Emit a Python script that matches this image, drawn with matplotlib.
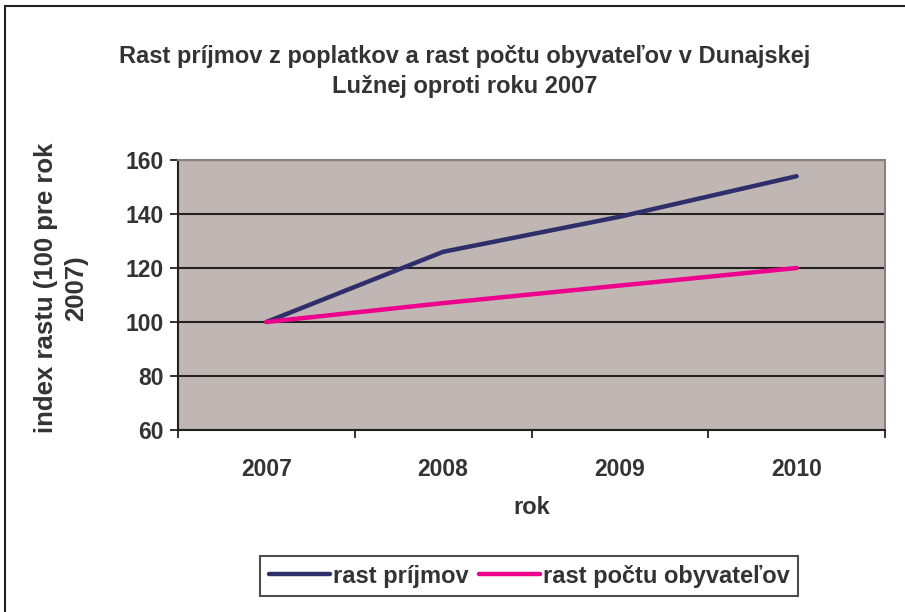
import matplotlib.pyplot as plt
import matplotlib.patches as patches

plt.rcParams['font.family'] = ['Liberation Sans', 'DejaVu Sans']
plt.rcParams['font.weight'] = 'bold'

years = ['2007', '2008', '2009', '2010']
rast_prijmov = [100, 126, 139, 154]
rast_obyvatelov = [100, 107, 113.5, 120]
y_ticks = [60, 80, 100, 120, 140, 160]

W, H = 905, 612
TXT = '#333333'
fig = plt.figure(figsize=(W / 100, H / 100), dpi=100, facecolor='white')
ax = fig.add_axes([178 / W, 1 - 430 / H, (885 - 178) / W, (430 - 160) / H])
ax.set_facecolor('#C0B6B3')

x = list(range(len(years)))
ax.plot(x, rast_prijmov, color='#2E2E6A', lw=3.2, solid_capstyle='round',
        label='rast príjmov', zorder=3)
ax.plot(x, rast_obyvatelov, color='#EC008C', lw=3.2, solid_capstyle='round',
        label='rast počtu obyvateľov', zorder=3)

ax.set_xlim(-0.5, len(years) - 0.5)
ax.set_ylim(60, 160)
ax.set_yticks(y_ticks)
ax.set_yticklabels([str(v) for v in y_ticks], fontsize=16.5, fontweight='bold', color=TXT)
ax.set_xticks(x)
ax.set_xticklabels(years, fontsize=16.5, fontweight='bold', color=TXT)
ax.tick_params(axis='x', length=0, pad=20)
ax.set_xticks([i - 0.5 for i in range(len(years) + 1)], minor=True)
ax.tick_params(axis='x', which='minor', length=6, width=1.3, color='#222222')
ax.tick_params(axis='y', length=6, width=1.3, color='#222222', pad=4)
ax.grid(axis='y', color='#222222', lw=1.5)
ax.set_axisbelow(True)

for s in ['left', 'bottom']:
    ax.spines[s].set_color('#222222')
    ax.spines[s].set_linewidth(1.5)
for s in ['top', 'right']:
    ax.spines[s].set_color('#8A807E')
    ax.spines[s].set_linewidth(1.5)

fig.text(465 / W, 1 - 57 / H, 'Rast príjmov z poplatkov a rast počtu obyvateľov v Dunajskej',
         ha='center', va='center', fontsize=17, fontweight='bold', color=TXT)
fig.text(465 / W, 1 - 87 / H, 'Lužnej oproti roku 2007',
         ha='center', va='center', fontsize=17, fontweight='bold', color=TXT)

fig.text(61 / W, 1 - 288 / H, 'index rastu (100 pre rok\n2007)', rotation=90,
         ha='center', va='center', fontsize=18.5, fontweight='bold', color=TXT,
         linespacing=1.3)
fig.text(532 / W, 1 - 508 / H, 'rok', ha='center', va='center',
         fontsize=17, fontweight='bold', color=TXT)

leg = fig.legend(loc='center', bbox_to_anchor=(529 / W, 1 - 576 / H), ncol=2,
                 frameon=True, fancybox=False, edgecolor='#222222',
                 prop={'size': 17, 'weight': 'bold'}, handlelength=2.6,
                 handletextpad=0.1, columnspacing=0.45, borderpad=0.35,
                 borderaxespad=0)
for t in leg.get_texts():
    t.set_color(TXT)
leg.get_frame().set_linewidth(1.5)

fig.patches.append(patches.Rectangle((5 / W, -0.1), 1.2, 1 - 6 / H + 0.1,
                                     transform=fig.transFigure, fill=False,
                                     edgecolor='#222222', lw=1.5))

fig.savefig('out.png', dpi=100, facecolor='white')
